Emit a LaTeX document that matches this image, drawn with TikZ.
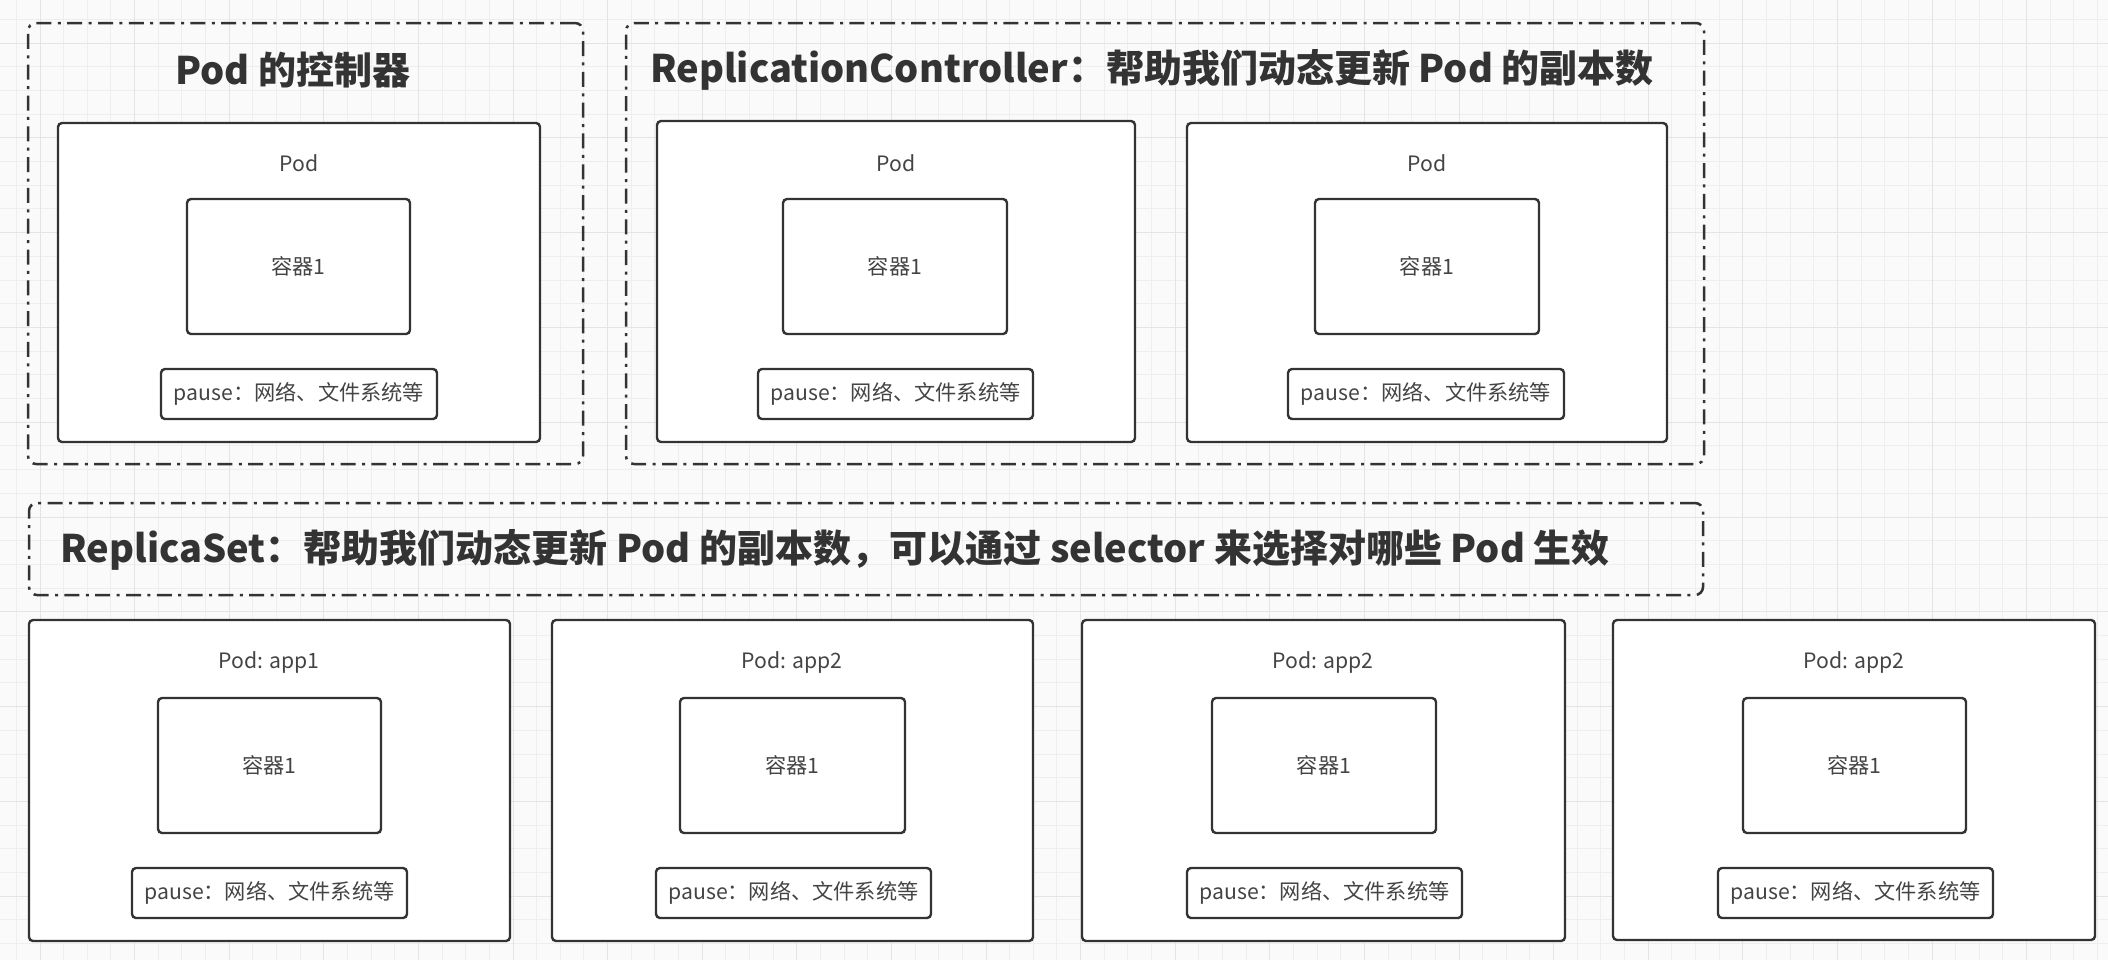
\documentclass[tikz,border=0pt]{standalone}
\usepackage{fontspec}
\setmainfont{Noto Sans CJK SC}
\usetikzlibrary{fit}
\definecolor{ink}{HTML}{333333}
\definecolor{txt}{HTML}{444444}
\definecolor{bg}{HTML}{FAFAFA}
\definecolor{gridminor}{HTML}{EEEEEE}
\definecolor{gridmajor}{HTML}{E4E4E4}
\begin{document}
\begin{tikzpicture}[x=0.5pt,y=-0.5pt,
  frame/.style={draw=ink, line width=1.25pt, rounded corners=4pt,
    dash pattern=on 7.5pt off 3.2pt on 1.5pt off 3.2pt, inner sep=0pt},
  podbox/.style={draw=ink, line width=1.2pt, rounded corners=2pt, fill=white, inner sep=0pt},
  title/.style={font=\fontsize{19}{21}\selectfont\bfseries, text=ink, inner sep=0pt},
  small/.style={font=\fontsize{10.6}{12.6}\selectfont, text=txt, inner sep=0pt}]
\useasboundingbox (0,0) rectangle (2108,960);
\fill[bg] (0,0) rectangle (2108,960);
% grid
\foreach \i in {-1,...,88} {\draw[gridminor, line width=0.5pt] ({40+23.65*\i},0) -- ({40+23.65*\i},960);}
\foreach \i in {-1,...,40} {\draw[gridminor, line width=0.5pt] (0,{43+23.7*\i}) -- (2108,{43+23.7*\i});}
\foreach \i in {0,...,22} {\draw[gridmajor, line width=0.5pt] ({40+94.6*\i},0) -- ({40+94.6*\i},960);}
\foreach \i in {0,...,10} {\draw[gridmajor, line width=0.5pt] (0,{43+94.8*\i}) -- (2108,{43+94.8*\i});}

% ---------- frames ----------
\node[frame, fit={(28,23)(583,464)}] (f0) {};
\node[frame, fit={(626,23)(1704,464)}] (f1) {};
\node[frame, fit={(29,503)(1703,595)}] (f2) {};
\node[title] (t0) at (293,70) {Pod 的控制器};
\node[title] (t1) at (1152,70) {ReplicationController：帮助我们动态更新 Pod 的副本数};
\node[title, anchor=west] (t2) at (60,550) {ReplicaSet：帮助我们动态更新 Pod 的副本数，可以通过 selector 来选择对哪些 Pod 生效};

% ---------- top pods ----------
\node[podbox, fit={(58,123)(540,442)}] (p0) {};
\node[small] (p0l) at (299,163) {Pod};
\node[podbox, fit={(187,199)(410,334)}] (p0c) {};
\node[small] (p0ct) at (p0c.center) {容器1};
\node[podbox, fit={(161,369)(437,419)}] (p0p) {};
\node[small] (p0pt) at (p0p.center) {pause：网络、文件系统等};

\node[podbox, fit={(657,121)(1135,442)}] (p1) {};
\node[small] (p1l) at (896,163) {Pod};
\node[podbox, fit={(783,199)(1007,334)}] (p1c) {};
\node[small] (p1ct) at (p1c.center) {容器1};
\node[podbox, fit={(758,369)(1033,419)}] (p1p) {};
\node[small] (p1pt) at (p1p.center) {pause：网络、文件系统等};

\node[podbox, fit={(1187,123)(1667,442)}] (p2) {};
\node[small] (p2l) at (1427,163) {Pod};
\node[podbox, fit={(1315,199)(1539,334)}] (p2c) {};
\node[small] (p2ct) at (p2c.center) {容器1};
\node[podbox, fit={(1288,369)(1564,419)}] (p2p) {};
\node[small] (p2pt) at (p2p.center) {pause：网络、文件系统等};

% ---------- bottom pods ----------
\node[podbox, fit={(29,620)(510,941)}] (a) {};
\node[small] (al) at (269,662) {Pod: app1};
\node[podbox, fit={(158,698)(381,833)}] (ac) {};
\node[small] (act) at (ac.center) {容器1};
\node[podbox, fit={(132,868)(407,918)}] (ap) {};
\node[small] (apt) at (ap.center) {pause：网络、文件系统等};

\node[podbox, fit={(552,620)(1033,941)}] (b) {};
\node[small] (bl) at (792,662) {Pod: app2};
\node[podbox, fit={(680,698)(905,833)}] (bc) {};
\node[small] (bct) at (bc.center) {容器1};
\node[podbox, fit={(656,868)(931,918)}] (bp) {};
\node[small] (bpt) at (bp.center) {pause：网络、文件系统等};

\node[podbox, fit={(1082,620)(1565,941)}] (c) {};
\node[small] (cl) at (1323,662) {Pod: app2};
\node[podbox, fit={(1212,698)(1436,833)}] (cc) {};
\node[small] (cct) at (cc.center) {容器1};
\node[podbox, fit={(1187,868)(1462,918)}] (cp) {};
\node[small] (cpt) at (cp.center) {pause：网络、文件系统等};

\node[podbox, fit={(1613,620)(2095,940)}] (d) {};
\node[small] (dl) at (1854,662) {Pod: app2};
\node[podbox, fit={(1743,698)(1966,833)}] (dc) {};
\node[small] (dct) at (dc.center) {容器1};
\node[podbox, fit={(1718,868)(1993,918)}] (dp) {};
\node[small] (dpt) at (dp.center) {pause：网络、文件系统等};
\end{tikzpicture}
\end{document}
